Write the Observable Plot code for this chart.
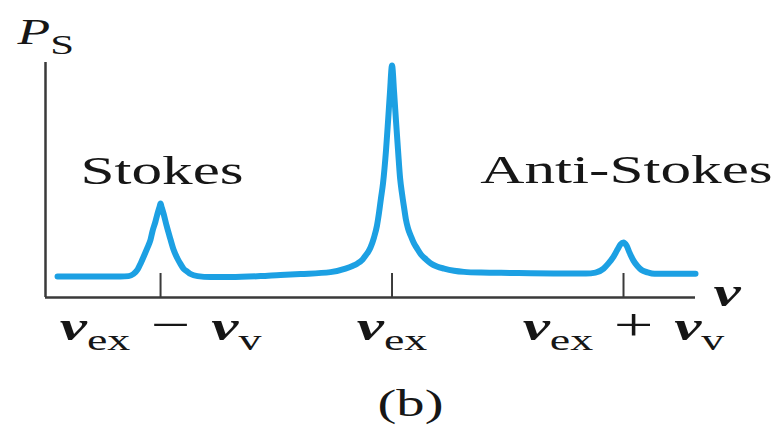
<!DOCTYPE html>
<html><head><meta charset="utf-8">
<script src="https://cdn.jsdelivr.net/npm/d3@7"></script>
<script src="https://cdn.jsdelivr.net/npm/@observablehq/plot@0.6"></script>
<style>html,body{margin:0;padding:0;background:#fff;} svg{display:block}</style>
</head><body><div id="chart"></div>
<script>
// frequency offset from nu_ex in units of nu_v, and scattered power (arbitrary units, axis 0..100)
const nuOffset = [
  -1.445, -1.346, -1.259, -1.173, -1.138, -1.117, -1.099, -1.086, -1.069, -1.056,
  -1.043, -1.035, -1.022, -1.013, -1.004, -1.000, -0.996, -0.987, -0.974, -0.957,
  -0.944, -0.927, -0.914, -0.901, -0.883, -0.870, -0.840, -0.784, -0.698, -0.568,
  -0.482, -0.395, -0.266, -0.201, -0.171, -0.149, -0.127, -0.114, -0.102, -0.093,
  -0.078, -0.065, -0.056, -0.048, -0.039, -0.026, -0.017, -0.009, 0.000, 0.009,
  0.017, 0.026, 0.035, 0.043, 0.052, 0.060, 0.069, 0.082, 0.095, 0.108,
  0.125, 0.147, 0.168, 0.194, 0.225, 0.268, 0.311, 0.384, 0.471, 0.600,
  0.730, 0.838, 0.879, 0.914, 0.935, 0.957, 0.974, 0.987, 1.000, 1.013,
  1.026, 1.043, 1.060, 1.078, 1.104, 1.134, 1.205, 1.311
];
const power = [
  8.9, 8.9, 8.9, 8.9, 9.1, 10.0, 11.9, 14.5, 18.3, 21.3,
  24.7, 28.1, 32.3, 35.7, 38.7, 40.0, 38.7, 35.7, 30.6, 24.7,
  20.4, 16.6, 14.3, 12.3, 10.9, 10.0, 9.1, 8.7, 8.7, 9.1,
  9.6, 10.0, 10.8, 12.3, 13.4, 14.5, 16.2, 17.9, 19.6, 21.3,
  25.5, 30.6, 36.2, 42.1, 48.5, 62.6, 75.3, 87.2, 98.7, 87.2,
  75.3, 62.6, 50.6, 44.3, 38.3, 33.2, 29.4, 26.0, 23.0, 20.9,
  18.3, 16.2, 14.5, 13.2, 12.3, 11.4, 10.9, 10.6, 10.5, 10.3,
  10.2, 10.2, 10.6, 12.3, 14.5, 17.4, 20.4, 22.6, 23.4, 22.1,
  19.1, 15.7, 13.4, 11.7, 10.7, 10.1, 10.1, 10.1
];
const tickValues = [-1, 0, 1];
const tickLabels = ["ν_ex − ν_v", "ν_ex", "ν_ex + ν_v"];
const stokesName = ["Stokes"];
const stokesNu = [-1];
const stokesPower = [40.0];
const antiName = ["Anti-Stokes"];
const antiNu = [1];
const antiPower = [23.4];
const yTitle = ["P_S"];
const xTitle = ["ν"];
const panelLabel = ["(b)"];
const xDomain = [-1.497, 1.311];
const yDomain = [0, 100];

const curveData = nuOffset.map((x, i) => ({x, y: power[i]}));
const FONT = "'Liberation Serif', 'Times New Roman', serif";
const INK = "#161616";
const AXIS = "#3a3a3a";
const STRETCH = 1.53;

const chart = Plot.plot({
  width: 778, height: 431,
  marginLeft: 45, marginRight: 83, marginTop: 62, marginBottom: 134,
  x: {domain: xDomain, axis: null},
  y: {domain: yDomain, axis: null},
  style: {background: "white", fontFamily: FONT, overflow: "visible"},
  marks: [
    Plot.line(curveData, {x: "x", y: "y", stroke: "#1ca0e3", strokeWidth: 6, curve: "monotone-x", strokeLinejoin: "round", strokeLinecap: "round"}),
    Plot.ruleX(tickValues, {stroke: AXIS, strokeWidth: 2, insetTop: 211}),
    Plot.ruleY([0], {stroke: AXIS, strokeWidth: 2.5}),
    Plot.ruleX([xDomain[0]], {stroke: AXIS, strokeWidth: 2.5}),
    Plot.text(tickLabels, {x: (d, i) => tickValues[i], text: d => d, frameAnchor: "bottom", dy: 42, lineAnchor: "bottom", textAnchor: "middle", fontSize: 40, fill: INK, fontFamily: FONT}),
    Plot.text(stokesName, {x: (d, i) => stokesNu[i], y: (d, i) => stokesPower[i], text: d => d, dx: 1.5, dy: -20, lineAnchor: "bottom", textAnchor: "middle", fontSize: 40, fill: INK, fontFamily: FONT}),
    Plot.text(antiName, {x: (d, i) => antiNu[i], y: (d, i) => antiPower[i], text: d => d, dx: 3, dy: -60, lineAnchor: "bottom", textAnchor: "middle", fontSize: 40, fill: INK, fontFamily: FONT}),
    Plot.text(yTitle, {text: d => d, frameAnchor: "top-left", dx: -28, dy: -19, lineAnchor: "bottom", textAnchor: "start", fontSize: 35, fill: INK, fontFamily: FONT}),
    Plot.text(xTitle, {text: d => d, frameAnchor: "bottom-right", dx: 18, dy: 8, lineAnchor: "bottom", textAnchor: "start", fontSize: 38, fill: INK, fontFamily: FONT}),
    Plot.text(panelLabel, {text: d => d, frameAnchor: "bottom", dx: 40, dy: 118, lineAnchor: "bottom", textAnchor: "middle", fontSize: 37, fill: INK, fontFamily: FONT})
  ]
});
document.getElementById("chart").appendChild(chart);

const NS = "http://www.w3.org/2000/svg";
function renderMath(el, mainSize, subSize, shift, spaceSize, opSize) {
  const s = el.textContent;
  while (el.firstChild) el.removeChild(el.firstChild);
  el.style.whiteSpace = "pre";
  let pending = 0;
  const add = (txt, attrs) => {
    const t = document.createElementNS(NS, "tspan");
    t.textContent = txt;
    for (const [a, v] of Object.entries(attrs)) t.setAttribute(a, v);
    if (pending) { t.setAttribute("dy", pending); pending = 0; }
    el.appendChild(t);
    return t;
  };
  s.split(" ").forEach((tok, k) => {
    if (k > 0) add(" ", {"font-size": spaceSize});
    const [base, sub] = tok.split("_");
    const isVar = /^[A-Za-z\u0370-\u03FF]$/.test(base);
    const isGreek = /[\u0370-\u03FF]/.test(base);
    add(base, {"font-size": isVar ? mainSize : opSize, "font-style": isVar ? "italic" : "normal", "font-weight": isGreek ? "bold" : "normal"});
    if (sub) {
      const t = add(sub, {"font-size": subSize, "font-style": "normal", "font-weight": "normal"});
      t.setAttribute("dy", shift);
      pending = -shift;
    }
  });
}
const mathTexts = new Set([...tickLabels, ...xTitle]);
d3.select(chart).selectAll("text").each(function() {
  const s = this.textContent;
  if (yTitle.includes(s)) renderMath(this, 35, 28, 10, 35, 35);
  else if (mathTexts.has(s)) renderMath(this, 40, 30, 10, 54, 46);
});

// the reference typography is horizontally stretched
d3.select(chart).selectAll("text").each(function() {
  const tr = this.getAttribute("transform");
  if (tr) this.setAttribute("transform", tr + ` scale(${STRETCH},1)`);
  else {
    const x = +this.getAttribute("x") || 0;
    this.setAttribute("transform", `translate(${x},0) scale(${STRETCH},1) translate(${-x},0)`);
  }
});
</script>
</body></html>
